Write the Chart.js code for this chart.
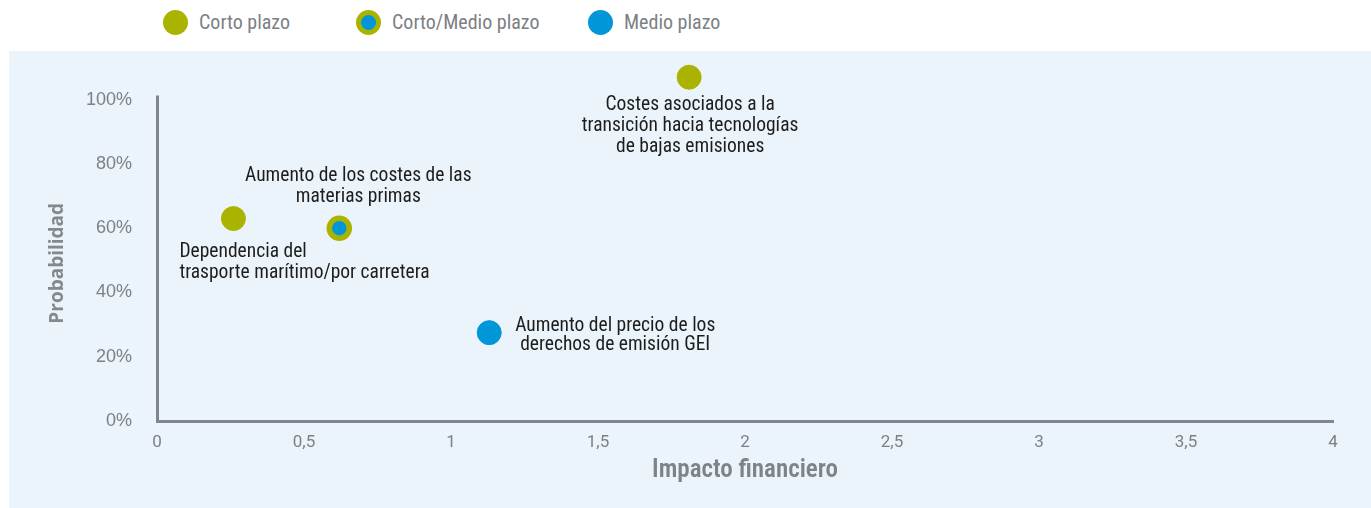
<!DOCTYPE html>
<html>
<head>
<meta charset="utf-8">
<script src="https://cdn.jsdelivr.net/npm/chart.js@4.4.1/dist/chart.umd.min.js"></script>
<style>
  html, body { margin: 0; padding: 0; background: #fff; }
  body { width: 1371px; height: 508px; position: relative; overflow: hidden; }
  #panel { position: absolute; left: 9px; top: 51px; width: 1362px; height: 457px; background: #ebf3fb; }
  #wrap { position: absolute; left: 0; top: 0; width: 1371px; height: 508px; }
  .leg { position: absolute; top: 10px; height: 25px; line-height: 25px; font-family: "Roboto Condensed", sans-serif; font-size: 20px; color: #7c8085; white-space: nowrap; }
  .dot { position: absolute; left: 0; top: 0; width: 25px; height: 25px; border-radius: 50%; box-sizing: border-box; }
  .leg span.t { position: absolute; left: 36px; top: 0; }
</style>
</head>
<body>
<div id="panel"></div>
<div id="legend"></div>
<div id="wrap"><canvas id="riesgos"></canvas></div>
<script>
// datos
var riesgos = [
    ["Dependencia del", "trasporte marítimo/por carretera"],
    ["Aumento de los costes de las", "materias primas"],
    ["Aumento del precio de los", "derechos de emisión GEI"],
    ["Costes asociados a la", "transición hacia tecnologías", "de bajas emisiones"]
];
var impacto = [0.26, 0.62, 1.13, 1.81];
var probabilidad = [63, 60, 27.5, 107];
var plazo = ["Corto plazo", "Corto/Medio plazo", "Medio plazo", "Corto plazo"];

var plazos = ["Corto plazo", "Corto/Medio plazo", "Medio plazo"];
var xTicks = [0, 0.5, 1, 1.5, 2, 2.5, 3, 3.5, 4];
var yTicks = [0, 20, 40, 60, 80, 100];
var yAxisTop = 101.3;   // hasta donde llega la linea del eje Y

var verde = "#aab400";
var azul = "#0096d8";
var gris = "#7c8186";
var ejeColor = "#80868b";

// donde va cada texto respecto a su punto
var labelPos = [
    {dx: -54, dy: 34, lh: 21, align: "left"},
    {dx: 19, dy: -52, lh: 21, align: "center"},
    {dx: 126, dy: -7, lh: 19.5, align: "center"},
    {dx: 1, dy: 28, lh: 21, align: "center"}
];

// leyenda
var legendLeft = [163, 356, 588];
var legendHtml = "";
for (var i = 0; i < plazos.length; i++) {
    var dotStyle;
    if (i == 0) dotStyle = "background:" + verde;
    else if (i == 1) dotStyle = "background:" + azul + ";border:5px solid " + verde;
    else dotStyle = "background:" + azul;
    legendHtml += '<div class="leg" style="left:' + legendLeft[i] + 'px"><div class="dot" style="' + dotStyle + '"></div><span class="t">' + plazos[i] + '</span></div>';
}
document.getElementById("legend").innerHTML = legendHtml;

function pointsFor(p) {
    var pts = [];
    for (var i = 0; i < plazo.length; i++) {
        if (plazo[i] == p) pts.push({x: impacto[i], y: probabilidad[i], idx: i});
    }
    return pts;
}

// eje Y (linea y titulo) dibujado a mano para que el punto de arriba no quede recortado
var ejeY = {
    id: "ejeY",
    beforeDatasetsDraw: function(chart) {
        var ctx = chart.ctx;
        var ys = chart.scales.y;
        var x = Math.round(ys.right) + 0.5;
        var y0 = ys.getPixelForValue(0);
        var y1 = ys.getPixelForValue(yAxisTop);
        ctx.save();
        ctx.strokeStyle = ejeColor;
        ctx.lineWidth = 3;
        ctx.beginPath();
        ctx.moveTo(x, y0);
        ctx.lineTo(x, y1);
        ctx.stroke();

        ctx.translate(ys.left + 58, (y0 + y1) / 2 + 5);
        ctx.rotate(-Math.PI / 2);
        ctx.font = 'bold 19px "Open Sans", sans-serif';
        ctx.fillStyle = "#85898d";
        ctx.textAlign = "center";
        ctx.textBaseline = "middle";
        ctx.fillText("Probabilidad", 0, 0);
        ctx.restore();
    }
};

var etiquetas = {
    id: "etiquetas",
    afterDatasetsDraw: function(chart) {
        var ctx = chart.ctx;
        ctx.save();
        ctx.font = '19.5px "Roboto Condensed", sans-serif';
        ctx.fillStyle = "#1d1d1b";
        ctx.textBaseline = "middle";
        chart.data.datasets.forEach(function(ds, d) {
            var meta = chart.getDatasetMeta(d);
            meta.data.forEach(function(el, j) {
                var idx = ds.data[j].idx;
                var pos = labelPos[idx];
                ctx.textAlign = pos.align;
                riesgos[idx].forEach(function(line, k) {
                    ctx.fillText(line, el.x + pos.dx, el.y + pos.dy + k * pos.lh);
                });
            });
        });
        ctx.restore();
    }
};

var ctx = document.getElementById("riesgos").getContext("2d");
var riesgosChart = new Chart(ctx, {
    type: "scatter",
    data: {
        datasets: [{
            label: plazos[0],
            data: pointsFor(plazos[0]),
            backgroundColor: verde,
            borderColor: verde,
            borderWidth: 1,
            pointRadius: 12,
            pointHoverRadius: 12,
            clip: false
        }, {
            label: plazos[1],
            data: pointsFor(plazos[1]),
            backgroundColor: azul,
            borderColor: verde,
            borderWidth: 5.5,
            pointRadius: 10,
            pointHoverRadius: 10,
            clip: false
        }, {
            label: plazos[2],
            data: pointsFor(plazos[2]),
            backgroundColor: azul,
            borderColor: azul,
            borderWidth: 1,
            pointRadius: 12,
            pointHoverRadius: 12,
            clip: false
        }]
    },
    options: {
        responsive: true,
        maintainAspectRatio: false,
        animation: false,
        layout: { padding: { top: 74, right: 38, left: 0, bottom: 0 } },
        plugins: {
            legend: { display: false },
            tooltip: { enabled: false }
        },
        scales: {
            x: {
                type: "linear",
                min: 0,
                max: 4,
                afterBuildTicks: function(s) { s.ticks = xTicks.map(function(v) { return {value: v}; }); },
                afterFit: function(s) { s.height = 87; },
                grid: { display: false, drawTicks: false, tickLength: 0 },
                border: { display: true, color: ejeColor, width: 3 },
                ticks: {
                    padding: 12,
                    color: gris,
                    font: { family: "Roboto", size: 17 },
                    callback: function(v) { return String(v).replace(".", ","); }
                },
                title: {
                    display: true,
                    text: "Impacto financiero",
                    color: "#7f8388",
                    font: { family: '"Roboto Condensed", sans-serif', size: 25, weight: 600 },
                    padding: { top: 0, bottom: 22 }
                }
            },
            y: {
                type: "linear",
                min: 0,
                max: 108,
                afterBuildTicks: function(s) { s.ticks = yTicks.map(function(v) { return {value: v}; }); },
                afterFit: function(s) { s.width = 157; },
                grid: { display: false, drawTicks: false, tickLength: 0 },
                border: { display: false },
                ticks: {
                    padding: 25,
                    color: gris,
                    font: { family: '"Liberation Sans", Arial, sans-serif', size: 18 },
                    callback: function(v) { return v + "%"; }
                }
            }
        }
    },
    plugins: [ejeY, etiquetas]
});
</script>
</body>
</html>
